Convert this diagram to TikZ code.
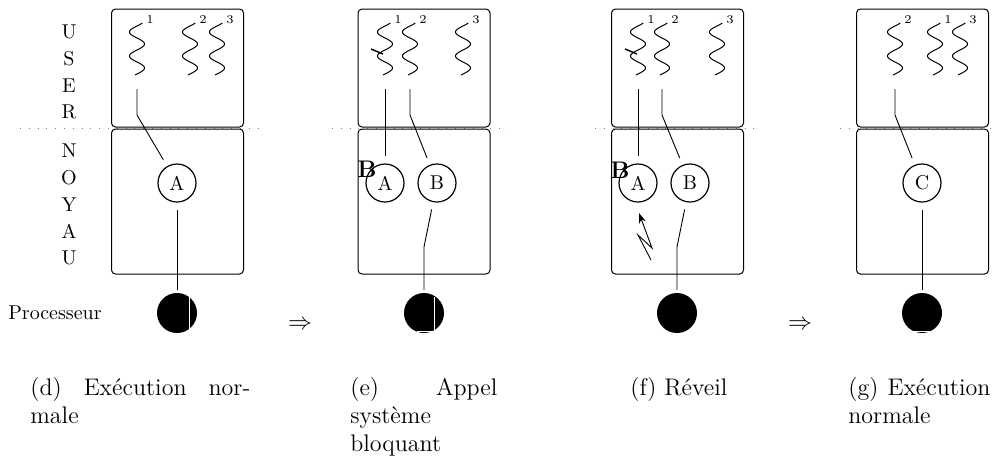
\documentclass[tikz,border=0pt]{standalone}
\usepackage{tikz}
\usetikzlibrary{arrows.meta}
\tikzset{
    zone/.style = {draw,line width=0.5pt,rounded corners=2pt,minimum width=66pt,inner sep=0},
    fil/.style = {line width=0.5pt},
    tache/.style = {draw,circle,line width=0.6pt,minimum size=19pt,inner sep=0,outer sep=4pt,font=\normalsize},
    cpu/.style = {circle,fill=black,minimum size=20pt,inner sep=0,outer sep=1.5pt},
    lien/.style = {line width=0.45pt},
    frontiere/.style = {loosely dotted,gray},
    marque/.style = {white,line width=0.5pt},
    coche/.style = {line width=0.7pt},
    reveil/.style = {line width=0.45pt,-{Stealth[length=5pt,width=3.5pt]}},
    num/.style = {font=\fontsize{6}{7}\selectfont,inner sep=0},
    lettre/.style = {font=\normalsize,inner sep=0},
    bloque/.style = {font=\large\bfseries,inner sep=0},
    legende/.style = {anchor=base west,align=justify,inner sep=0,font=\fontsize{12}{14}\selectfont}
}
\begin{document}
\begin{tikzpicture}[x=0.5pt,y=-0.5pt]
        \useasboundingbox (0,0) rectangle (998,462);
        % Threads: x, number, name
        \newcommand\filet[3]{%
            \draw[fil] plot[domain=0:52,samples=80,smooth] ({#1+7.5*cos(45+15*\x)},{23+\x});
            \node[num] (n#3) at (#1+13,20) {#2};
            \coordinate (#3) at (#1,89);
        }
        % User / kernel frontier
        \foreach \a/\b in {20/258,332/508,595/760,840/997}
            \draw[frontiere] (\a,128) -- (\b,128);
        % Side labels
        \foreach \l [count=\i] in {U,S,E,R}
            \node[lettre] (u\i) at (69,5.3+26.7*\i) {\l};
        \foreach \l [count=\i] in {N,O,Y,A,U}
            \node[lettre] (k\i) at (69,124.3+26.7*\i) {\l};
        \node[lettre] (proc) at (55,313) {Processeur};
        % Boxes and processors
        \foreach \p/\x in {d/177.5,e/424,f/677.5,g/922.5} {
            \node[zone,minimum height=59pt] (user\p) at (\x,68) {};
            \node[zone,minimum height=72.5pt] (noyau\p) at (\x,201.5) {};
        }
        \foreach \p/\x in {d/177,e/424,f/677,g/922}
            \node[cpu] (cpu\p) at (\x,313) {};
        \draw[marque] (189,296) -- (189,332);
        \draw[marque] (434,297) |- (417,331);
        \draw[marque] (913,331) -- (930,331);
        % Threads
        \filet{137}{1}{d1} \filet{190}{2}{d2} \filet{217}{3}{d3}
        \filet{385}{1}{e1} \filet{410}{2}{e2} \filet{463}{3}{e3}
        \filet{638}{1}{f1} \filet{662}{2}{f2} \filet{717}{3}{f3}
        \filet{895}{2}{g2} \filet{935}{1}{g1} \filet{960}{3}{g3}
        \draw[coche] (371,49) -- (383,54);
        \draw[coche] (625,49) -- (637,54);
        % Kernel tasks
        \node[tache] (Ad) at (177,183) {A};
        \node[tache] (Ae) at (385,183) {A};
        \node[tache] (Be) at (437,183) {B};
        \node[tache] (Af) at (638,183) {A};
        \node[tache] (Bf) at (690,183) {B};
        \node[tache] (Cg) at (922,183) {C};
        \node[bloque] (blqe) at (367,169) {B};
        \node[bloque] (blqf) at (620,170) {B};
        % Links
        \coordinate (ke) at (424,247);
        \coordinate (kf) at (677,247);
        \draw[lien] (d1) -- ++(0,26) -- (Ad);
        \draw[lien] (e1) -- (Ae);
        \draw[lien] (e2) -- ++(0,26) -- (Be);
        \draw[lien] (f1) -- (Af);
        \draw[lien] (f2) -- ++(0,26) -- (Bf);
        \draw[lien] (g2) -- ++(0,26) -- (Cg);
        \draw[lien] (Ad) -- (cpud);
        \draw[lien] (Be) -- (ke) -- (cpue);
        \draw[lien] (Bf) -- (kf) -- (cpuf);
        \draw[lien] (Cg) -- (cpug);
        % Wake-up
        \coordinate (eclair) at (651,260);
        \draw[reveil] (eclair) -- ++(-13,-25) -- ++(14,13) -- ++(-13,-35);
        % Steps
        \node[font=\large] (vers1) at (300,325) {$\Rightarrow$};
        \node[font=\large] (vers2) at (800,325) {$\Rightarrow$};
        % Captions
        \node[legende,text width=110pt] (legd) at (30,395) {(d) Exécution nor-\linebreak male};
        \node[legende,text width=73.5pt] (lege) at (350,395) {(e) Appel\linebreak système\linebreak bloquant};
        \node[legende,text width=70pt] (legf) at (630,395) {(f) Réveil};
        \node[legende,text width=71pt] (legg) at (848,395) {(g) Exécution\linebreak normale};
    \end{tikzpicture}
\end{document}
